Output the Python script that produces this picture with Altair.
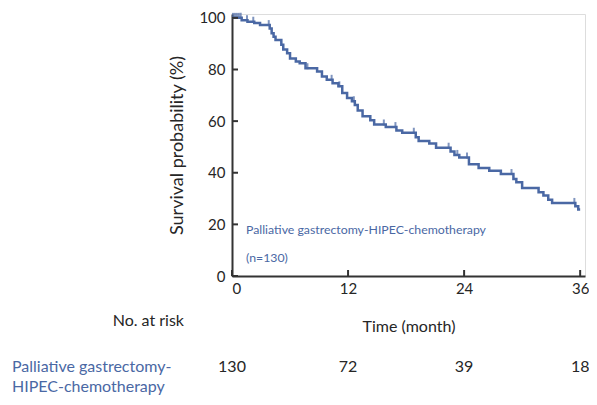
import altair as alt
import pandas as pd

# ---- data ----
times = [0, 1.0, 1.6, 2.3, 2.9, 3.9, 4.1, 4.3, 4.5, 5.1, 5.3, 5.7, 6.0, 6.6, 7.0, 7.6,
         8.8, 9.3, 9.8, 10.4, 11.0, 11.4, 11.9, 12.4, 12.7, 13.0, 13.5, 14.3, 14.7,
         15.9, 17.0, 17.6, 19.0, 19.3, 20.4, 21.1, 22.6, 23.0, 23.5, 24.5, 25.5,
         26.6, 27.8, 29.1, 29.4, 30.0, 31.7, 32.2, 32.7, 33.1, 35.5, 35.8, 36.0]
survival = [100, 99.1, 98.5, 98.0, 97.2, 95.9, 94.0, 92.7, 91.4, 89.6, 87.7, 86.3,
            84.3, 83.1, 82.4, 80.5, 79.2, 77.3, 76.0, 74.7, 73.5, 70.9, 69.0, 67.7,
            66.2, 64.1, 61.9, 60.3, 58.7, 57.7, 56.4, 55.5, 53.8, 52.3, 51.3, 49.7,
            48.2, 46.9, 45.9, 43.3, 41.8, 40.8, 39.5, 37.6, 36.3, 34.1, 32.4, 31.2,
            29.5, 28.3, 27.0, 25.8, 25.8]
censor_times = [0.1, 0.3, 0.5, 0.7, 0.9, 1.55, 2.2, 3.8, 7.8, 10.3, 11.1, 12.6,
                15.7, 16.9, 18.8, 22.4, 23.3, 24.3, 28.9, 35.4]
x_ticks = [0, 12, 24, 36]
y_ticks = [0, 20, 40, 60, 80, 100]
risk_times = [0, 12, 24, 36]
risk_counts = [130, 72, 39, 18]
group_name = "Palliative gastrectomy-HIPEC-chemotherapy"
group_n = "(n=130)"


def surv_at(t):
    val = survival[0]
    for ti, si in zip(times, survival):
        if ti <= t:
            val = si
    return val


curve = pd.DataFrame({"t": times, "s": survival})
cens = pd.DataFrame({"t": censor_times, "s": [surv_at(t) for t in censor_times]})
xt = pd.DataFrame({"t": x_ticks})
yt = pd.DataFrame({"s": y_ticks})
risk = pd.DataFrame({"t": risk_times, "n": [str(v) for v in risk_counts]})

BLUE = "#4a68a4"
DARK = "#262626"
W, H = 353, 262
TOP = 6
FONT = "Lato"
LEFT = 224

xs = alt.Scale(domain=[0, 36.5], nice=False, zero=False)
ys = alt.Scale(domain=[0, 101.5], nice=False)

x_axis = alt.Axis(values=x_ticks, ticks=False, grid=False, domainColor="#333333",
                  domainWidth=2, labelFontSize=15, labelColor=DARK, labelPadding=5,
                  labelFont=FONT, title="Time (month)", titleFontSize=16,
                  titleFontWeight="normal", titleColor=DARK, titleFont=FONT,
                  titlePadding=22)
y_axis = alt.Axis(values=y_ticks, ticks=False, grid=False, domainColor="#333333",
                  domainWidth=2, labelFontSize=15, labelColor=DARK, labelPadding=7,
                  labelFont=FONT, title="Survival probability (%)", titleFontSize=18,
                  titleFontWeight="normal", titleColor=DARK, titleFont=FONT,
                  titlePadding=12)

line = alt.Chart(curve).mark_line(interpolate="step-after", color=BLUE,
                                  strokeWidth=2.5).encode(
    x=alt.X("t:Q", scale=xs, axis=x_axis),
    y=alt.Y("s:Q", scale=ys, axis=y_axis),
)

ticks_c = alt.Chart(cens).mark_tick(orient="vertical", color=BLUE, size=6,
                                    thickness=2, yOffset=-2).encode(
    x=alt.X("t:Q", scale=xs), y=alt.Y("s:Q", scale=ys))

xtick = alt.Chart(xt).mark_rule(color="#333333", strokeWidth=2).encode(
    x=alt.X("t:Q", scale=xs), y=alt.value(H), y2=alt.value(H - 6))
ytick = alt.Chart(yt).mark_rule(color="#333333", strokeWidth=2).encode(
    y=alt.Y("s:Q", scale=ys), x=alt.value(0), x2=alt.value(6))

# page-pixel positions converted to plot-area offsets
def px(xpage):
    return xpage - 8 - LEFT


def py(ypage):
    return ypage - 8 - TOP


ann1 = alt.Chart(pd.DataFrame({"txt": [group_name]})).mark_text(
    align="left", baseline="middle", fontSize=12.3, color=BLUE, font=FONT).encode(
    x=alt.value(px(246)), y=alt.value(py(230)), text="txt:N")
ann2 = alt.Chart(pd.DataFrame({"txt": [group_n]})).mark_text(
    align="left", baseline="middle", fontSize=12.3, color=BLUE, font=FONT).encode(
    x=alt.value(px(246)), y=alt.value(py(258)), text="txt:N")

nrisk = alt.Chart(pd.DataFrame({"txt": ["No. at risk"]})).mark_text(
    align="right", baseline="middle", fontSize=16, color=DARK, font=FONT).encode(
    x=alt.value(px(184)), y=alt.value(py(321)), text="txt:N")

risk_nums = alt.Chart(risk).mark_text(
    align="center", baseline="middle", fontSize=16, color=DARK, font=FONT).encode(
    x=alt.X("t:Q", scale=xs), y=alt.value(py(367)), text="n:N")

lab1 = alt.Chart(pd.DataFrame({"txt": ["Palliative gastrectomy-"]})).mark_text(
    align="left", baseline="middle", fontSize=16, color=BLUE, font=FONT).encode(
    x=alt.value(px(12)), y=alt.value(py(367)), text="txt:N")
lab2 = alt.Chart(pd.DataFrame({"txt": ["HIPEC-chemotherapy"]})).mark_text(
    align="left", baseline="middle", fontSize=16, color=BLUE, font=FONT).encode(
    x=alt.value(px(12)), y=alt.value(py(387)), text="txt:N")

chart = alt.layer(line, ticks_c, xtick, ytick, ann1, ann2, nrisk, risk_nums,
                  lab1, lab2).properties(
    width=W, height=H,
    autosize=alt.AutoSizeParams(type="none"),
    padding={"left": LEFT, "top": TOP, "right": 581 - LEFT - W,
             "bottom": 389 - TOP - H},
).configure_view(stroke=None).configure(font=FONT)

chart.save("out.html", embed_options={"renderer": "svg", "actions": False})
